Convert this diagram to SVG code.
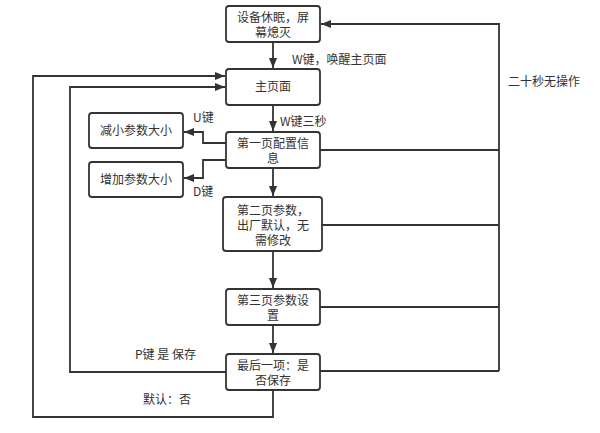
<svg xmlns="http://www.w3.org/2000/svg" width="600" height="433" viewBox="0 0 600 433">
<style>
.box{fill:#fff;stroke:#333;stroke-width:1.8}
.t{font-family:"Noto Sans CJK SC","Liberation Sans",sans-serif;font-size:12px;fill:#333;text-anchor:middle}
.l{font-family:"Noto Sans CJK SC","Liberation Sans",sans-serif;font-size:12px;fill:#333}
.c{fill:none;stroke:#333;stroke-width:1.8}
</style>
<defs>
<marker id="ah" viewBox="0 0 10 8" refX="10" refY="4" markerWidth="10" markerHeight="8" markerUnits="userSpaceOnUse" orient="auto">
<path d="M0,0 L10,4 L0,8 Z" fill="#333"/>
</marker>
</defs>
<rect width="600" height="433" fill="#fff"/>
<g id="connectors">
<path class="c" d="M273,42 V68" marker-end="url(#ah)"/>
<path class="c" d="M273,105 V131" marker-end="url(#ah)"/>
<path class="c" d="M273,168 V196" marker-end="url(#ah)"/>
<path class="c" d="M273,251 V288" marker-end="url(#ah)"/>
<path class="c" d="M273,325 V353" marker-end="url(#ah)"/>
<path class="c" d="M226,143 H203 V132 H184" marker-end="url(#ah)"/>
<path class="c" d="M226,160 H203 V178 H184" marker-end="url(#ah)"/>
<path class="c" d="M320,150 H499"/>
<path class="c" d="M322,225 H499"/>
<path class="c" d="M320,307 H499"/>
<path class="c" d="M320,371 H499"/>
<path class="c" d="M499,371 V24 H321" marker-end="url(#ah)"/>
<path class="c" d="M226,372 H70 V87 H225" marker-end="url(#ah)"/>
<path class="c" d="M273,390 V417 H33 V76 H225" marker-end="url(#ah)"/>
</g>
<g id="labels">
<text class="l" x="292" y="64">W键，唤醒主页面</text>
<text class="l" x="280" y="126">W键三秒</text>
<text class="l" x="193" y="122">U键</text>
<text class="l" x="193" y="196">D键</text>
<text class="l" x="508" y="86">二十秒无操作</text>
<text class="l" x="135" y="359">P键 是 保存</text>
<text class="l" x="143" y="404">默认：否</text>
</g>
<g id="n-sleep"><rect class="box" x="226" y="6" width="94" height="36" rx="3"/>
<text class="t" x="273" y="22">设备休眠，屏</text><text class="t" x="273" y="37">幕熄灭</text></g>
<g id="n-main"><rect class="box" x="226" y="69" width="94" height="36" rx="3"/>
<text class="t" x="273" y="91">主页面</text></g>
<g id="n-page1"><rect class="box" x="226" y="132" width="94" height="36" rx="3"/>
<text class="t" x="273" y="148">第一页配置信</text><text class="t" x="273" y="163">息</text></g>
<g id="n-dec"><rect class="box" x="89" y="113" width="94" height="35" rx="3"/>
<text class="t" x="136" y="135">减小参数大小</text></g>
<g id="n-inc"><rect class="box" x="89" y="162" width="94" height="35" rx="3"/>
<text class="t" x="136" y="184">增加参数大小</text></g>
<g id="n-page2"><rect class="box" x="223" y="197" width="99" height="54" rx="3"/>
<text class="t" x="273" y="215">第二页参数，</text><text class="t" x="273" y="230">出厂默认，无</text><text class="t" x="273" y="245">需修改</text></g>
<g id="n-page3"><rect class="box" x="226" y="289" width="94" height="36" rx="3"/>
<text class="t" x="273" y="305">第三页参数设</text><text class="t" x="273" y="320">置</text></g>
<g id="n-last"><rect class="box" x="226" y="354" width="94" height="36" rx="3"/>
<text class="t" x="273" y="370">最后一项：是</text><text class="t" x="273" y="385">否保存</text></g>
</svg>
